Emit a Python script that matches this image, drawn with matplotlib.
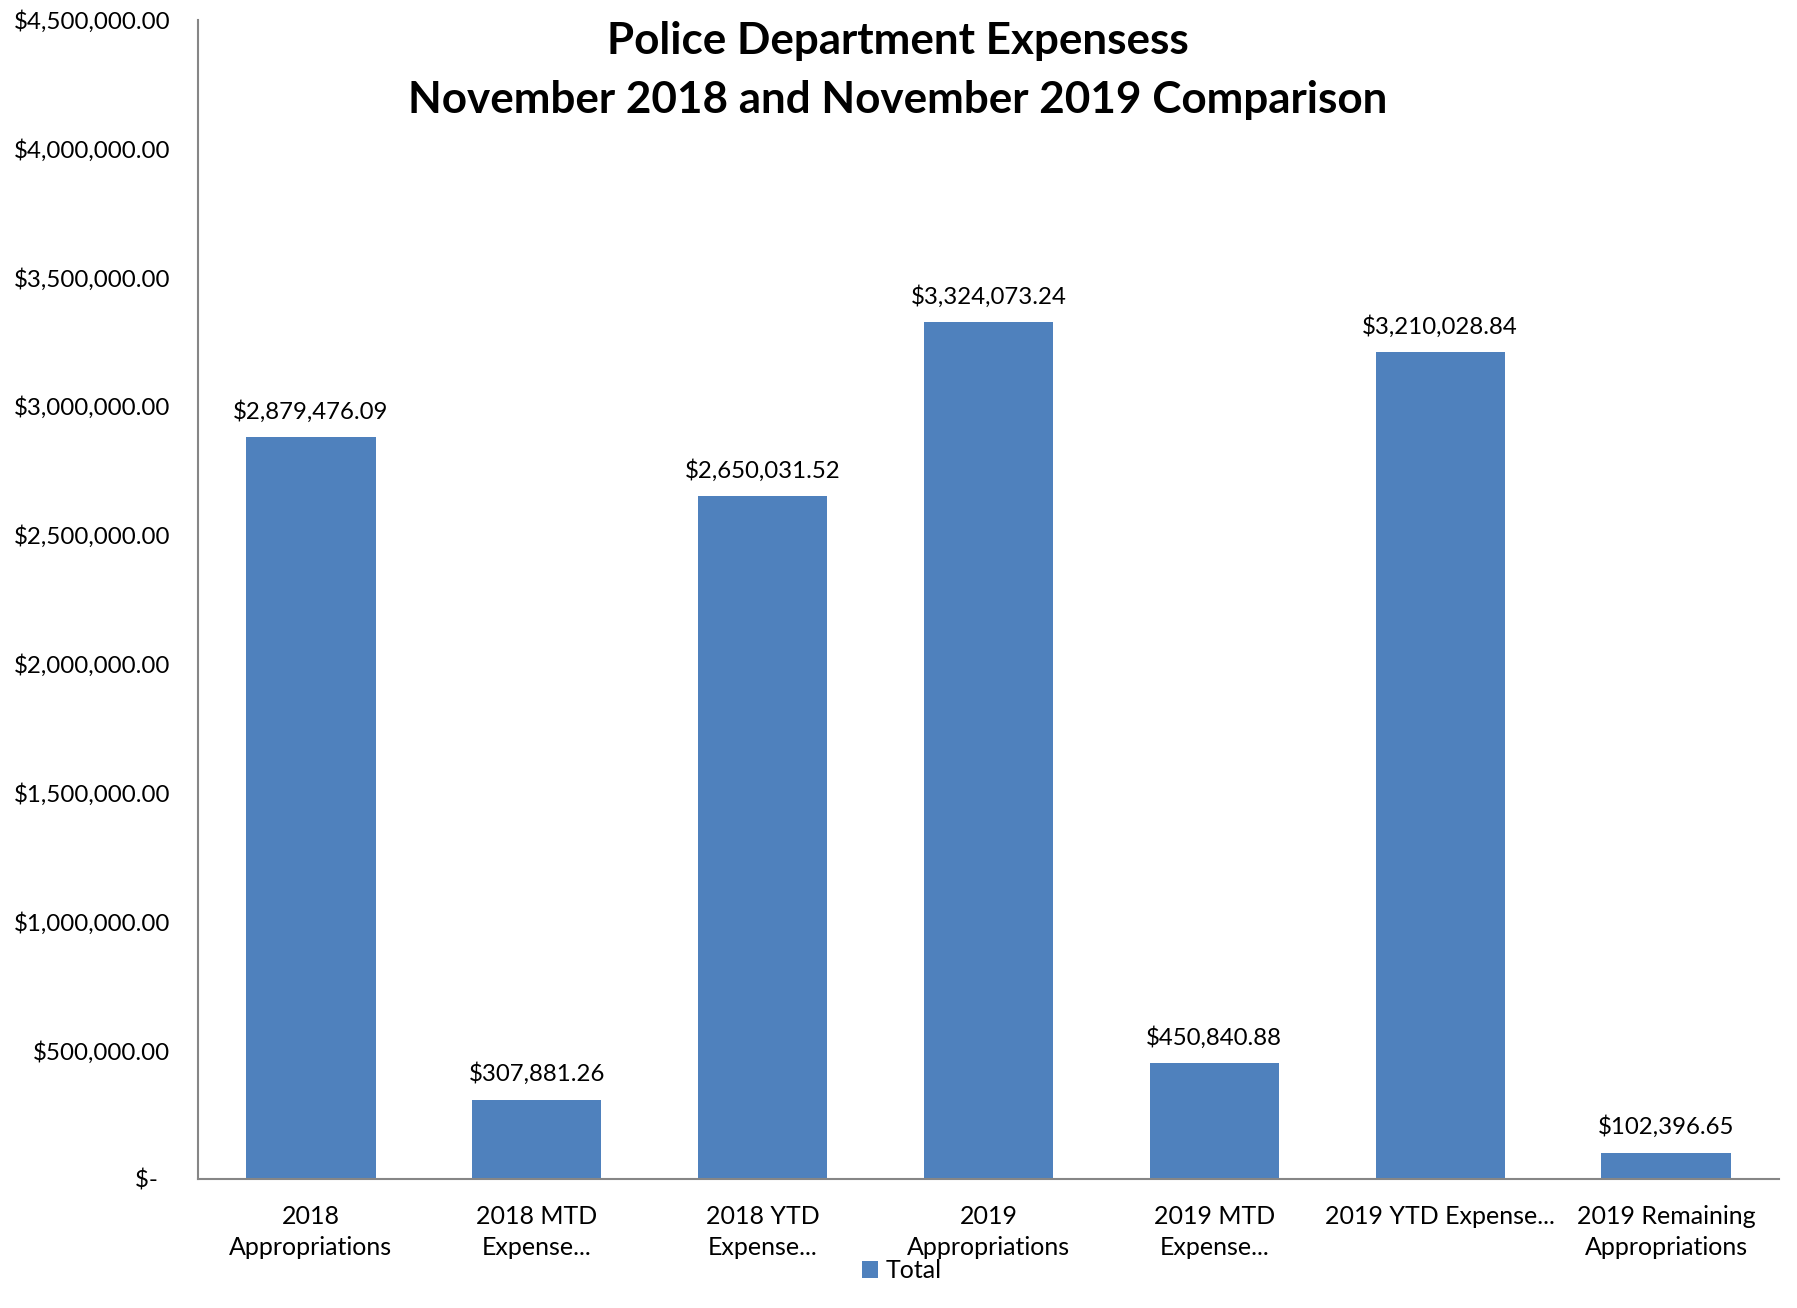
import matplotlib
matplotlib.use("Agg")
import matplotlib.pyplot as plt
from matplotlib.patches import Patch

plt.rcParams['font.family'] = ['Lato', 'DejaVu Sans']

categories = ["2018\nAppropriations", "2018 MTD\nExpense...", "2018 YTD\nExpense...",
              "2019\nAppropriations", "2019 MTD\nExpense...", "2019 YTD Expense...",
              "2019 Remaining\nAppropriations"]
values = [2879476.09, 307881.26, 2650031.52, 3324073.24, 450840.88, 3210028.84, 102396.65]
ytick_values = [0, 500000, 1000000, 1500000, 2000000, 2500000, 3000000, 3500000, 4000000, 4500000]
ytick_labels = ["$-  "] + [f"${v:,.2f}" for v in ytick_values[1:]]
series_name = "Total"
title = "Police Department Expensess\nNovember 2018 and November 2019 Comparison"

W, H = 1797, 1308
fig = plt.figure(figsize=(W / 100, H / 100), dpi=100)
ax = fig.add_axes([198 / W, 1 - 1179 / H, (1779 - 198) / W, (1179 - 19.5) / H])

bar_color = "#4F81BD"
x = list(range(len(categories)))
bars = ax.bar(x, values, width=0.573, color=bar_color, zorder=2)

for xi, v in zip(x, values):
    ax.annotate(f"${v:,.2f}", xy=(xi, v), xytext=(0, 18.5), textcoords="offset points",
                ha="center", va="center", fontsize=17.3, color="black")

ax.set_xlim(-0.5, len(categories) - 0.5)
ax.set_ylim(0, 4500000)
ax.set_yticks(ytick_values)
ax.set_yticklabels(ytick_labels)
ax.set_xticks(x)
ax.set_xticklabels(categories, linespacing=1.45)
ax.tick_params(axis="y", length=0, pad=20, labelsize=17.4)
ax.tick_params(axis="x", length=0, pad=18.5, labelsize=18)

for s in ["top", "right"]:
    ax.spines[s].set_visible(False)
for s in ["left", "bottom"]:
    ax.spines[s].set_color("#868686")
    ax.spines[s].set_linewidth(1.5)

fig.text(898 / W, 1 - 70.5 / H, title, ha="center", va="center", fontsize=31.7,
         fontweight="bold", linespacing=1.56)

handle = Patch(facecolor=bar_color, edgecolor="none")
fig.legend([handle], [series_name], loc="center", bbox_to_anchor=(902 / W, 1 - 1271 / H),
           frameon=False, fontsize=18, handlelength=0.65, handleheight=0.65,
           handletextpad=0.3, borderpad=0)

fig.savefig("out.png", dpi=100)
